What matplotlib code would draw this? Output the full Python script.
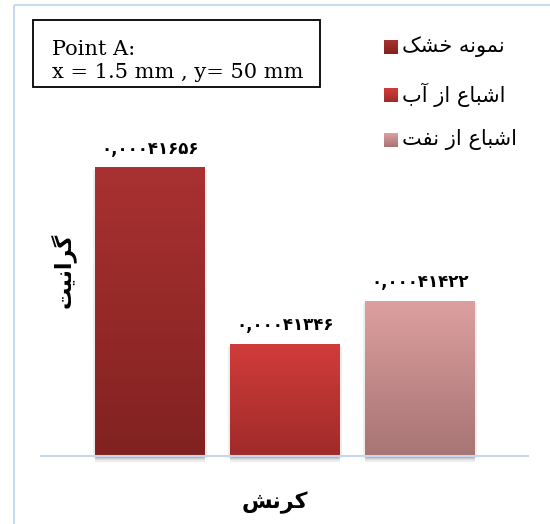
import numpy as np
import matplotlib
matplotlib.use("Agg")
from matplotlib import pyplot as plt
from matplotlib.patches import Rectangle
from matplotlib.colors import LinearSegmentedColormap
import matplotlib.patheffects as pe

# Persian strings, written as visual-order presentation forms (matplotlib does no shaping)
series_names = [
    "\uFB8F\uFEB8\uFEA7 \uFEEA\uFEE7\uFEEE\uFEE4\uFEE7",            # نمونه خشک
    "\uFE8F\uFE81 \uFEAF\uFE8D \uFEC9\uFE8E\uFE92\uFEB7\uFE8D",      # اشباع از آب
    "\uFE96\uFED4\uFEE7 \uFEAF\uFE8D \uFEC9\uFE8E\uFE92\uFEB7\uFE8D",  # اشباع از نفت
]
values = [0.00041656, 0.00041346, 0.00041422]
y_label = "\uFE96\uFBFF\uFEE7\uFE8D\uFEAE\uFB94"   # گرانیت
x_label = "\uFEB6\uFEE7\uFEAE\uFB90"               # کرنش
note = "Point A:\nx = 1.5 mm , y= 50 mm"

# top / bottom gradient colours of each series
grad_top = ["#a93131", "#d03c39", "#dc9f9f"]
grad_bot = ["#812220", "#a02b2a", "#a87474"]

y_min, y_max = 0.0004115, 0.000418
persian = ["DejaVu Sans", "Noto Sans"]

def to_persian(v):
    s = f"{v:.8f}".replace(".", ",")
    return s.translate(str.maketrans("0123456789", "۰۱۲۳۴۵۶۷۸۹"))

W, H = 550, 524
fig = plt.figure(figsize=(W / 100, H / 100), dpi=100)

# pixel-space overlay for frame, note box and legend
ov = fig.add_axes([0, 0, 1, 1])
ov.set_xlim(0, W)
ov.set_ylim(H, 0)
ov.axis("off")
ov.add_patch(Rectangle((13.5, 4.5), 600, 600, fill=False, ec="#c9d9ee", lw=1.5))

ax = fig.add_axes([41 / W, (H - 456) / H, 487 / W, 370 / H])
ax.patch.set_alpha(0)
x = np.arange(len(values))
bars = ax.bar(x, np.array(values) - y_min, bottom=y_min, width=110 / 135,
              color="none", zorder=3)
ax.set_xlim(-109 / 135, 378 / 135)
ax.set_ylim(y_min, y_max)

shadow = [pe.SimplePatchShadow(offset=(dx, dy), shadow_rgbFace="#505050", alpha=0.1)
          for dx, dy in [(0, -1), (0, -2), (0, -3), (1.5, -1.5), (-1.5, -1.5), (0, -4)]]
for i, b in enumerate(bars):
    bx, by, bw, bh = b.get_x(), b.get_y(), b.get_width(), b.get_height()
    sh = Rectangle((bx, by), bw, bh, color="none", zorder=1, clip_on=False)
    sh.set_path_effects(shadow)
    ax.add_patch(sh)
    cmap = LinearSegmentedColormap.from_list(f"g{i}", [grad_bot[i], grad_top[i]])
    ax.imshow(np.linspace(0, 1, 100).reshape(-1, 1), cmap=cmap, origin="lower",
              extent=[bx, bx + bw, by, by + bh], aspect="auto", zorder=2)
    ax.text(bx + bw / 2, by + bh + 34e-8, to_persian(values[i]), ha="center",
            va="center", fontsize=12, fontweight="bold", family=persian)

for s in ["top", "left", "right"]:
    ax.spines[s].set_visible(False)
ax.spines["bottom"].set_color("#c6d6ec")
ax.spines["bottom"].set_linewidth(1.5)
ax.spines["bottom"].set_zorder(2.5)
ax.set_xticks([])
ax.set_yticks([])

ov.text(63, 270, y_label, rotation=90, ha="center", va="center", fontsize=16,
        fontweight="bold", family=persian)
ov.text(275, 503, x_label, ha="center", va="center", fontsize=16,
        fontweight="bold", family=persian)

# note box
ov.add_patch(Rectangle((33, 20), 287, 67, fill=False, ec="black", lw=1.3))
ov.text(52, 61, note, ha="left", va="center", fontsize=15, family="DejaVu Serif",
        linespacing=1.3)

# legend
for i, name in enumerate(series_names):
    yc = [47, 95, 140][i]
    cmap = LinearSegmentedColormap.from_list(f"l{i}", [grad_bot[i], grad_top[i]])
    ov.imshow(np.linspace(0, 1, 20).reshape(-1, 1), cmap=cmap, origin="lower",
              extent=[384, 398, yc + 7, yc - 7], aspect="auto")
    ov.text(402, yc, name, ha="left", va="center", fontsize=15, family=persian)
ov.set_xlim(0, W)
ov.set_ylim(H, 0)

fig.savefig("out.png", dpi=100)
